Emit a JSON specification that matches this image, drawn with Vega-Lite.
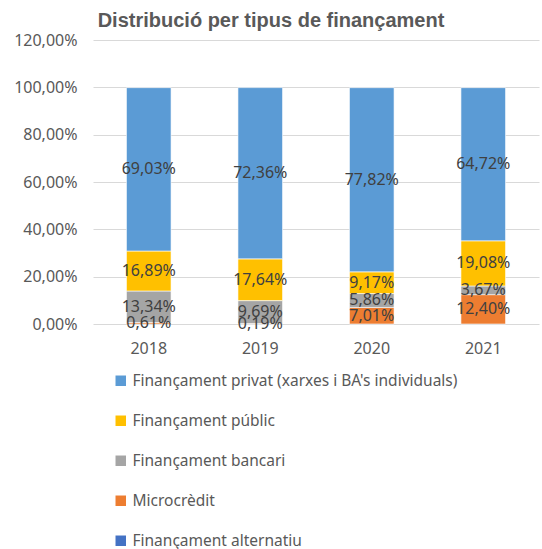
{
  "$schema": "https://vega.github.io/schema/vega-lite/v6.json",
  "autosize": "none",
  "width": 446,
  "height": 284,
  "padding": {"left": 93, "top": 40, "right": 3, "bottom": 225},
  "background": "white",
  "config": {
    "locale": {"number": {"decimal": ",", "thousands": ".", "grouping": [3], "currency": ["", " €"]}},
    "view": {"stroke": null},
    "font": "Noto Sans"
  },
  "title": {
    "text": "Distribució per tipus de finançament",
    "fontSize": 20,
    "fontWeight": "bold",
    "color": "#595959",
    "font": "Liberation Sans",
    "anchor": "middle",
    "dx": -45,
    "offset": 1
  },
  "data": {
    "values": [
      {"year": "2018", "type": "Microcrèdit", "ord": 1, "value": 0.0061},
      {"year": "2018", "type": "Finançament bancari", "ord": 2, "value": 0.1334},
      {"year": "2018", "type": "Finançament públic", "ord": 3, "value": 0.1689},
      {"year": "2018", "type": "Finançament privat (xarxes i BA's individuals)", "ord": 4, "value": 0.6903},
      {"year": "2019", "type": "Microcrèdit", "ord": 1, "value": 0.0019},
      {"year": "2019", "type": "Finançament bancari", "ord": 2, "value": 0.0969},
      {"year": "2019", "type": "Finançament públic", "ord": 3, "value": 0.1764},
      {"year": "2019", "type": "Finançament privat (xarxes i BA's individuals)", "ord": 4, "value": 0.7236},
      {"year": "2020", "type": "Microcrèdit", "ord": 1, "value": 0.0701},
      {"year": "2020", "type": "Finançament bancari", "ord": 2, "value": 0.0586},
      {"year": "2020", "type": "Finançament públic", "ord": 3, "value": 0.0917},
      {"year": "2020", "type": "Finançament privat (xarxes i BA's individuals)", "ord": 4, "value": 0.7782},
      {"year": "2021", "type": "Microcrèdit", "ord": 1, "value": 0.124},
      {"year": "2021", "type": "Finançament bancari", "ord": 2, "value": 0.0367},
      {"year": "2021", "type": "Finançament públic", "ord": 3, "value": 0.1908},
      {"year": "2021", "type": "Finançament privat (xarxes i BA's individuals)", "ord": 4, "value": 0.6472}
    ]
  },
  "transform": [
    {"stack": "value", "groupby": ["year"], "sort": [{"field": "ord", "order": "ascending"}], "as": ["v0", "v1"]},
    {"calculate": "(datum.v0 + datum.v1) / 2", "as": "mid"}
  ],
  "encoding": {
    "x": {
      "field": "year",
      "type": "nominal",
      "title": null,
      "scale": {"paddingInner": 0.6, "paddingOuter": 0.3},
      "axis": {"labelAngle": 0, "labelFontSize": 16, "labelColor": "#595959", "ticks": false, "domain": false, "labelPadding": 16}
    }
  },
  "layer": [
    {
      "mark": {"type": "bar", "stroke": "white", "strokeWidth": 0.6},
      "encoding": {
        "y": {
          "field": "v0",
          "type": "quantitative",
          "title": null,
          "scale": {"domain": [0, 1.2], "nice": false},
          "axis": {
            "values": [0, 0.2, 0.4, 0.6, 0.8, 1.0, 1.2],
            "format": ".2%",
            "labelFontSize": 16,
            "labelColor": "#595959",
            "ticks": false,
            "domain": false,
            "gridColor": "#D9D9D9",
            "labelPadding": 16
          }
        },
        "y2": {"field": "v1"},
        "color": {
          "field": "type",
          "type": "nominal",
          "title": null,
          "scale": {
            "domain": ["Finançament privat (xarxes i BA's individuals)", "Finançament públic", "Finançament bancari", "Microcrèdit", "Finançament alternatiu"],
            "range": ["#5B9BD5", "#FFC000", "#A5A5A5", "#ED7D31", "#4472C4"]
          },
          "legend": {
            "orient": "none",
            "legendX": 20,
            "legendY": 333,
            "direction": "vertical",
            "symbolType": "square",
            "symbolSize": 110,
            "symbolStrokeWidth": 0,
            "labelFontSize": 15.5,
            "labelColor": "#595959",
            "labelLimit": 500,
            "rowPadding": 23,
            "labelOffset": 4
          }
        }
      }
    },
    {
      "mark": {"type": "text", "fontSize": 16, "color": "#404040", "baseline": "middle"},
      "encoding": {
        "y": {"field": "mid", "type": "quantitative"},
        "text": {"field": "value", "type": "quantitative", "format": ".2%"}
      }
    }
  ]
}
